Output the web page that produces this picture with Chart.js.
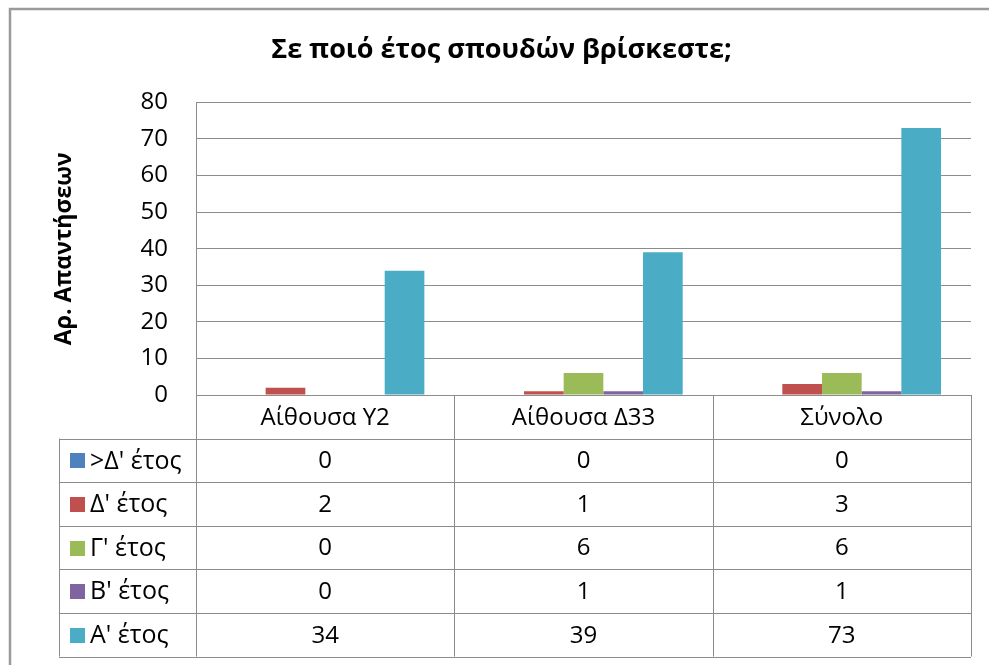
<!DOCTYPE html>
<html>
<head>
<meta charset="utf-8">
<style>
  html, body { margin: 0; padding: 0; background: #fff; }
  #wrap { width: 989px; height: 665px; position: relative; }
</style>
</head>
<body>
<div id="wrap"><canvas id="chart"></canvas></div>

<script src="https://cdn.jsdelivr.net/npm/chart.js"></script>
<script>
  // data
  const categories = ['Αίθουσα Υ2', 'Αίθουσα Δ33', 'Σύνολο'];
  const seriesNames = [">Δ' έτος", "Δ' έτος", "Γ' έτος", "Β' έτος", "Α' έτος"];
  const beyondD = [0, 0, 0];
  const yearD = [2, 1, 3];
  const yearG = [0, 6, 6];
  const yearB = [0, 1, 1];
  const yearA = [34, 39, 73];
  const yTicks = [0, 10, 20, 30, 40, 50, 60, 70, 80];

  const colors = ['#4F81BD', '#C0504D', '#9BBB59', '#8064A2', '#4BACC6'];
  const lineColor = '#8c8c8c';
  const fontFamily = '"Open Sans", "Noto Sans", sans-serif';

  // draws the frame and the Excel style data table under the plot
  const dataTable = {
    id: 'dataTable',
    beforeDraw(chart) {
      const c = chart.ctx;
      c.save();
      c.fillStyle = '#fff';
      c.fillRect(0, 0, chart.width, chart.height);
      c.strokeStyle = '#9a9a9a';
      c.lineWidth = 2.5;
      c.beginPath();
      c.moveTo(10, chart.height + 5);
      c.lineTo(10, 9);
      c.lineTo(chart.width + 5, 9);
      c.stroke();
      c.restore();
    },
    afterDraw(chart) {
      const c = chart.ctx;
      const x = chart.scales.x;
      const area = chart.chartArea;
      const catW = (area.right - area.left) / categories.length;
      const rowH = 43.6;
      const tableLeft = 59;
      const top = area.bottom;
      const rowsTop = top + rowH;
      const bottom = rowsTop + rowH * seriesNames.length;

      c.save();
      c.strokeStyle = lineColor;
      c.lineWidth = 1;
      c.beginPath();
      // horizontal lines
      c.moveTo(area.left, top + 0.5); c.lineTo(area.right, top + 0.5);
      for (let i = 0; i <= seriesNames.length; i++) {
        const yy = Math.round(rowsTop + i * rowH) + 0.5;
        c.moveTo(tableLeft, yy); c.lineTo(area.right, yy);
      }
      // vertical lines
      c.moveTo(tableLeft + 0.5, rowsTop); c.lineTo(tableLeft + 0.5, bottom);
      for (let i = 0; i <= categories.length; i++) {
        const xx = Math.round(area.left + i * catW) + 0.5;
        c.moveTo(xx, top); c.lineTo(xx, bottom);
      }
      c.stroke();

      c.font = '24px ' + fontFamily;
      c.fillStyle = '#000';
      c.textBaseline = 'middle';
      c.textAlign = 'center';
      categories.forEach((cat, i) => {
        c.fillText(cat, x.getPixelForValue(i), top + rowH / 2 + 1);
      });

      chart.data.datasets.forEach((ds, s) => {
        const cy = rowsTop + s * rowH + rowH / 2 + 1;
        c.fillStyle = ds.backgroundColor;
        c.fillRect(70, Math.round(cy - 8), 15, 15);
        c.fillStyle = '#000';
        c.textAlign = 'left';
        c.font = '25px ' + fontFamily;
        c.fillText(ds.label, 90, cy);
        c.font = '24px ' + fontFamily;
        c.textAlign = 'center';
        ds.data.forEach((v, i) => {
          c.fillText(String(v), x.getPixelForValue(i), cy);
        });
      });
      c.restore();
    }
  };

  const seriesValues = [beyondD, yearD, yearG, yearB, yearA];

  new Chart(document.getElementById('chart'), {
    type: 'bar',
    data: {
      labels: categories,
      datasets: seriesNames.map((name, i) => ({
        label: name,
        data: seriesValues[i],
        backgroundColor: colors[i],
        borderWidth: 0,
        categoryPercentage: 0.768,
        barPercentage: 1.0
      }))
    },
    options: {
      responsive: true,
      maintainAspectRatio: false,
      animation: false,
      layout: { padding: { top: 8, left: 32, right: 18, bottom: 270 } },
      plugins: {
        legend: { display: false },
        tooltip: { enabled: false },
        title: {
          display: true,
          text: 'Σε ποιό έτος σπουδών βρίσκεστε;',
          color: '#000',
          font: { family: fontFamily, size: 27, weight: 'bold' },
          padding: { top: 26, bottom: 36 }
        }
      },
      scales: {
        x: { display: false },
        y: {
          min: 0,
          max: 80,
          afterFit(scale) { scale.width = 164; },
          afterBuildTicks(scale) { scale.ticks = yTicks.map(v => ({ value: v })); },
          ticks: {
            color: '#000',
            padding: 28,
            font: { family: fontFamily, size: 24 }
          },
          grid: { color: lineColor, drawTicks: false },
          border: { color: lineColor },
          title: {
            display: true,
            text: 'Αρ. Απαντήσεων',
            color: '#000',
            font: { family: fontFamily, size: 23, weight: 'bold' },
            padding: { top: 19, bottom: 0 }
          }
        }
      }
    },
    plugins: [dataTable]
  });
</script>
</body>
</html>
